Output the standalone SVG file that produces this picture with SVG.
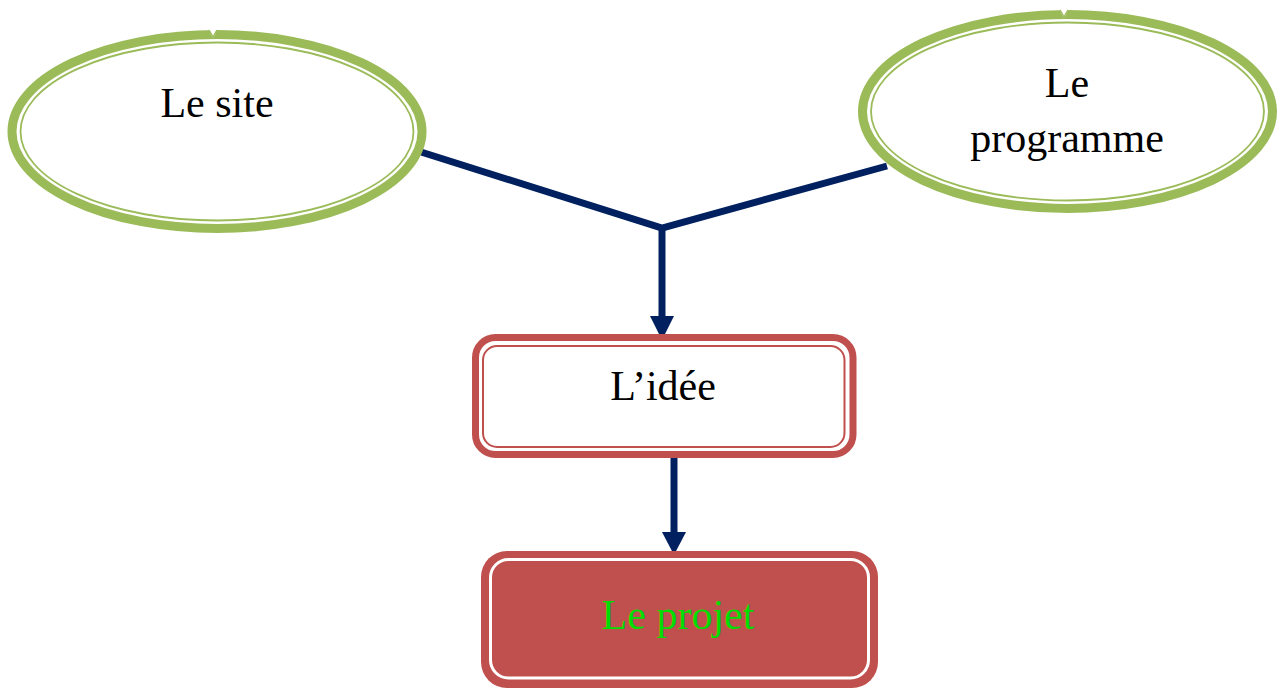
<svg xmlns="http://www.w3.org/2000/svg" width="1280" height="689" viewBox="0 0 1280 689">
<defs>
<style>
.ell-out{fill:#fff;stroke:#9BBB59;stroke-width:9}
.ell-in{fill:none;stroke:#9BBB59;stroke-width:1.8}
.conn{stroke:#002060;stroke-width:7;fill:none}
.head{fill:#002060}
.lbl{font-family:"Liberation Serif","Times New Roman",serif;font-size:42px;text-anchor:middle;fill:#000}
.notch{fill:#fff;stroke:none}
.hook{fill:none;stroke:#9BBB59;stroke-width:1.5}
</style>
</defs>
<g id="connectors">
<polyline class="conn" points="421,152 662,228 887,166"/>
<line class="conn" x1="662" y1="226" x2="662" y2="320"/>
<polygon class="head" points="650,316 674,316 662,340"/>
<line class="conn" x1="674" y1="456" x2="674" y2="536"/>
<polygon class="head" points="662,532 686,532 674,555"/>
</g>
<g id="node-site">
<ellipse class="ell-out" cx="217" cy="131.5" rx="205" ry="97"/>
<ellipse class="ell-in" cx="217" cy="131.5" rx="196.5" ry="89"/>
<polygon class="notch" points="207,25 219,25 215,35 213,38 211,35"/>
<polyline class="hook" points="209,30 213,37 217,30"/>
<text class="lbl" x="217" y="117">Le site</text>
</g>
<g id="node-programme">
<ellipse class="ell-out" cx="1067.5" cy="111.5" rx="205" ry="97"/>
<ellipse class="ell-in" cx="1067.5" cy="111.5" rx="196.5" ry="89"/>
<polygon class="notch" points="1058,5 1070,5 1066,15 1064,18 1062,15"/>
<polyline class="hook" points="1060,10 1064,17 1068,10"/>
<text class="lbl" x="1067" y="97">Le</text>
<text class="lbl" x="1067" y="152">programme</text>
</g>
<g id="node-idee">
<rect x="475.5" y="337.5" width="377.5" height="117" rx="20" fill="#fff" stroke="#C0504D" stroke-width="7"/>
<rect x="483" y="346" width="361.5" height="101" rx="14" fill="none" stroke="#C0504D" stroke-width="2"/>
<text class="lbl" x="663" y="400">L’idée</text>
</g>
<g id="node-projet">
<rect x="481" y="551" width="397" height="137" rx="26" fill="#C0504D"/>
<rect x="490.5" y="559.5" width="378" height="118.5" rx="18" fill="none" stroke="#fff" stroke-width="3"/>
<text class="lbl" x="678" y="629" style="fill:#00DD00">Le projet</text>
</g>
</svg>
